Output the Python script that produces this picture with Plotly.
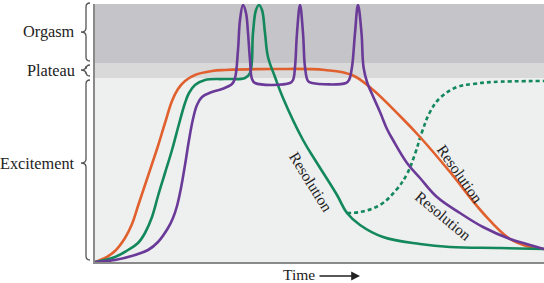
import plotly.graph_objects as go

# ---- data (time units 0..449, arousal units 0..258) ----
phase_names = ["Excitement", "Plateau", "Orgasm"]
phase_lo = [0, 184, 199]
phase_hi = [184, 199, 258]

orange_t = [0, 10, 20, 30, 37, 43, 50, 57, 62, 70, 77, 83, 90, 100, 117, 130, 180, 230, 257, 277, 305, 325, 355, 388, 415, 435, 449]
orange_a = [0, 4, 11, 24, 38, 56, 77, 98, 113, 139, 161, 173, 181, 187, 191, 192, 193, 192, 187, 173, 146, 125, 90, 49, 23, 15, 13]

green_t = [0, 20, 33, 43, 50, 57, 63, 70, 77, 84, 90, 94, 100, 110, 130, 150, 155, 158, 161, 164, 167, 170, 173,
           180, 188, 208, 222, 242, 252, 265, 288, 325, 355, 405, 449]
green_a = [0, 5, 12, 19, 29, 45, 66, 89, 112, 138, 159, 169, 177, 182, 183, 184, 189, 229, 252, 257, 252, 229, 205,
           185, 164, 122, 99, 67, 49, 37, 25, 18, 15, 14, 13]

green_dot_t = [252, 265, 285, 302, 312, 320, 327, 335, 345, 362, 378, 398, 449]
green_dot_a = [49, 50, 57, 73, 88, 108, 130, 150, 164, 175, 178, 180, 181]

purple_t = [0, 20, 40, 53, 63, 73, 78, 82, 86, 90, 94, 98, 102, 107, 117, 127, 137, 140, 143, 145, 148, 151, 153, 155, 157, 160,
            195, 198, 200, 202, 205, 208, 210, 213, 217,
            251, 254, 257, 260, 263, 266.5, 268.5, 272, 277, 285, 292, 298, 312, 325, 342, 365, 388, 415, 435, 449]
purple_a = [0, 2, 7, 12, 20, 34, 44, 56, 74, 97, 122, 143, 157, 165, 170, 173, 178, 184, 212, 242, 257, 249, 229, 202, 183, 179,
            179, 182, 195, 229, 257, 229, 195, 181, 179,
            179, 182, 195, 229, 257, 229, 195, 180, 168, 150, 133, 122, 99, 84, 65, 49, 35, 23, 17, 13]

res_labels = ["Resolution", "Resolution", "Resolution"]
res_t = [216, 365, 348]
res_a = [81, 89, 47]
res_angle = [58, 55, 40]

X_MAX = 449
Y_MAX = 258

ORANGE = "#e0602e"
GREEN = "#12885c"
PURPLE = "#6a3a98"
FONT = "Liberation Serif"
FS = 16.3

fig = go.Figure()

band_colors = ["#eeefef", "#d9d9da", "#c5c4c8"]
for lo, hi, col in zip(phase_lo, phase_hi, band_colors):
    fig.add_shape(type="rect", xref="x", yref="y", x0=0, x1=X_MAX, y0=lo, y1=hi,
                  fillcolor=col, line_width=0, layer="below")

def line(t, a, color, dash="solid"):
    fig.add_trace(go.Scatter(x=t, y=a, mode="lines", cliponaxis=False,
                             line=dict(color=color, width=2.6, shape="spline", smoothing=1.1, dash=dash),
                             hoverinfo="skip", showlegend=False))

line(green_dot_t, green_dot_a, GREEN, dash="4px,3px")
line(orange_t, orange_a, ORANGE)
line(green_t, green_a, GREEN)
line(purple_t, purple_a, PURPLE)

# braces + phase labels (paper coords)
def px_x(px):
    return (px - 95) / X_MAX

xr, xm, xl = px_x(90), px_x(86), px_x(81)
gap = 2
tips = [99, 192, 230]
r = 4
for lo, hi, tip, name in zip(phase_lo, phase_hi, tips, phase_names):
    top = (hi - gap) / Y_MAX if hi < Y_MAX else (Y_MAX + 1) / Y_MAX
    bot = (lo + gap) / Y_MAX
    tp = tip / Y_MAX
    rr = r / Y_MAX
    path = (f"M{xr},{top} Q{xm},{top} {xm},{top-rr} L{xm},{tp+rr} Q{xm},{tp} {xl},{tp} "
            f"Q{xm},{tp} {xm},{tp-rr} L{xm},{bot+rr} Q{xm},{bot} {xr},{bot}")
    fig.add_shape(type="path", xref="paper", yref="paper", path=path,
                  line=dict(color="#555555", width=1.3))
    fig.add_annotation(xref="paper", yref="paper", x=px_x(77), y=tp, text=name,
                       showarrow=False, xanchor="right", yanchor="middle",
                       font=dict(family=FONT, size=FS, color="#222222"))

for txt, t, a, ang in zip(res_labels, res_t, res_a, res_angle):
    fig.add_annotation(xref="x", yref="y", x=t, y=a, text=txt, showarrow=False,
                       textangle=ang, font=dict(family=FONT, size=15.5, color="#222222"))

# Time arrow
ty = (262 - 274) / Y_MAX
fig.add_annotation(xref="paper", yref="paper", x=px_x(299), y=ty, text="Time",
                   showarrow=False, xanchor="center", yanchor="middle",
                   font=dict(family=FONT, size=15.5, color="#222222"))
fig.add_annotation(xref="paper", yref="paper", x=px_x(360), y=(262 - 276) / Y_MAX, text="",
                   showarrow=True, ax=-42, ay=0, arrowhead=2, arrowsize=1.1,
                   arrowwidth=1.6, arrowcolor="#222222")

fig.update_xaxes(range=[0, X_MAX], showgrid=False, zeroline=False, showticklabels=False,
                 ticks="", showline=True, linecolor="#8a8a8a", linewidth=2)
fig.update_yaxes(range=[0, Y_MAX], showgrid=False, zeroline=False, showticklabels=False,
                 ticks="", showline=True, linecolor="#8a8a8a", linewidth=2)

fig.update_layout(width=544, height=283, margin=dict(l=95, r=0, t=4, b=21),
                  paper_bgcolor="white", plot_bgcolor="#eeefef")

fig.write_html("out.html")
